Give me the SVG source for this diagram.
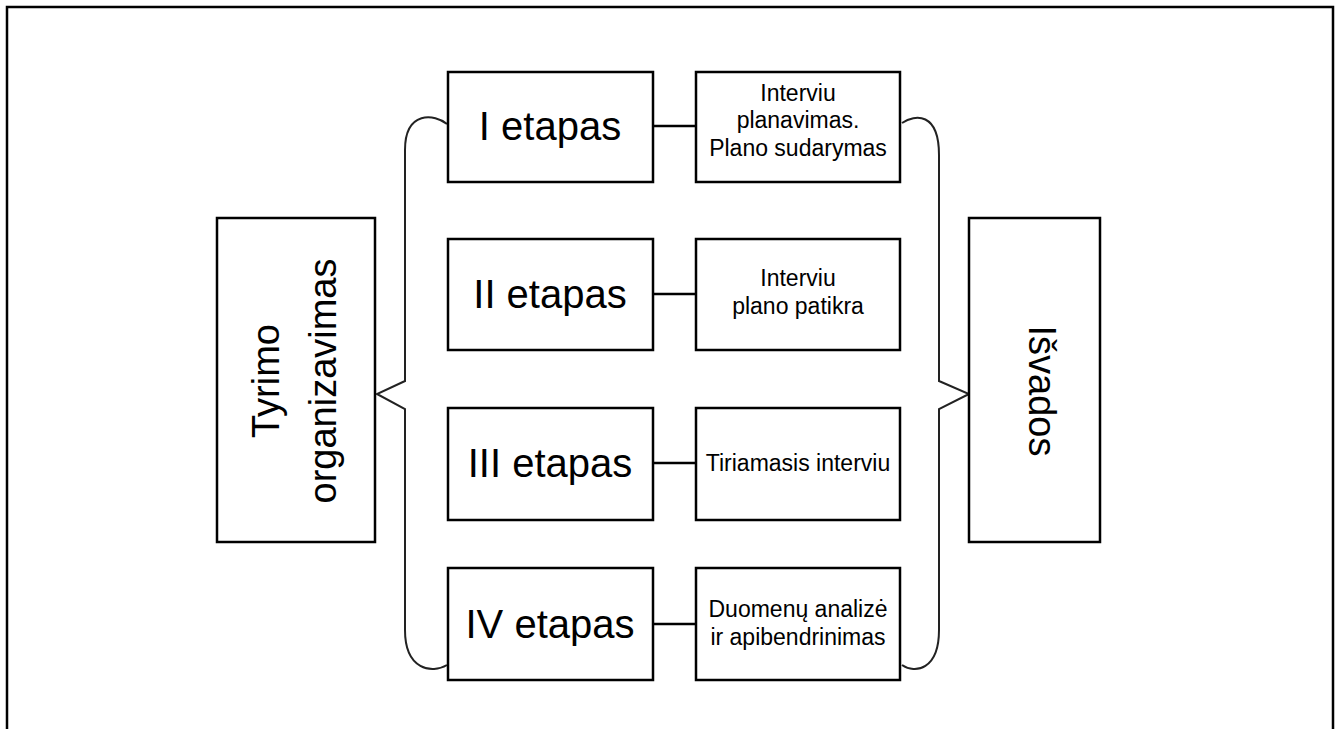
<svg xmlns="http://www.w3.org/2000/svg" width="1341" height="729" viewBox="0 0 1341 729">
<style>
.box{fill:#fff;stroke:#000;stroke-width:2.5}
.big{font-family:"Liberation Sans",Arial,sans-serif;font-size:40px;fill:#000;text-anchor:middle}
.side{font-family:"Liberation Sans",Arial,sans-serif;font-size:38px;fill:#000;text-anchor:middle}
.small{font-family:"Liberation Sans",Arial,sans-serif;font-size:23px;fill:#000;text-anchor:middle}
.brace{fill:none;stroke:#222;stroke-width:2}
.conn{stroke:#000;stroke-width:2.5}
</style>
<rect width="1341" height="729" fill="#fff"/>
<path d="M7,729 V7 H1333 V729" fill="none" stroke="#000" stroke-width="2.5"/>
<g id="connectors">
<path class="brace" d="M447,124 C435,114 405,110 405,150 V381 L377,394 L405,409 V630 C405,670 432,674 447,665"/>
<path class="brace" d="M902,123 C915,114 939,112 939,155 V381 L969,394 L939,409 V630 C939,670 915,674 902,665"/>
<line class="conn" x1="653" y1="126" x2="696" y2="126"/>
<line class="conn" x1="653" y1="294" x2="696" y2="294"/>
<line class="conn" x1="653" y1="463" x2="696" y2="463"/>
<line class="conn" x1="653" y1="624" x2="696" y2="624"/>
</g>
<g id="tyrimo">
<rect class="box" x="217" y="218" width="158" height="324"/>
<g transform="translate(296,381) rotate(-90)">
<text class="side" x="0" y="-17">Tyrimo</text>
<text class="side" x="0" y="40">organizavimas</text>
</g>
</g>
<g id="isvados">
<rect class="box" x="969" y="218" width="131" height="324"/>
<g transform="translate(1043,391) rotate(90)">
<text class="side" x="0" y="14">Išvados</text>
</g>
</g>
<g id="etapas1">
<rect class="box" x="448" y="72" width="205" height="110"/>
<text class="big" x="550" y="140">I etapas</text>
</g>
<g id="etapas2">
<rect class="box" x="448" y="239" width="205" height="111"/>
<text class="big" x="550" y="308">II etapas</text>
</g>
<g id="etapas3">
<rect class="box" x="448" y="408" width="205" height="112"/>
<text class="big" x="550" y="477">III etapas</text>
</g>
<g id="etapas4">
<rect class="box" x="448" y="568" width="205" height="112"/>
<text class="big" x="550" y="638">IV etapas</text>
</g>
<g id="desc1">
<rect class="box" x="696" y="72" width="204" height="110"/>
<text class="small" x="798" y="101">Interviu</text>
<text class="small" x="798" y="128">planavimas.</text>
<text class="small" x="798" y="156">Plano sudarymas</text>
</g>
<g id="desc2">
<rect class="box" x="696" y="239" width="204" height="111"/>
<text class="small" x="798" y="286">Interviu</text>
<text class="small" x="798" y="314">plano patikra</text>
</g>
<g id="desc3">
<rect class="box" x="696" y="408" width="204" height="112"/>
<text class="small" x="798" y="471">Tiriamasis interviu</text>
</g>
<g id="desc4">
<rect class="box" x="696" y="568" width="204" height="112"/>
<text class="small" x="798" y="617">Duomenų analizė</text>
<text class="small" x="798" y="645">ir apibendrinimas</text>
</g>
</svg>
